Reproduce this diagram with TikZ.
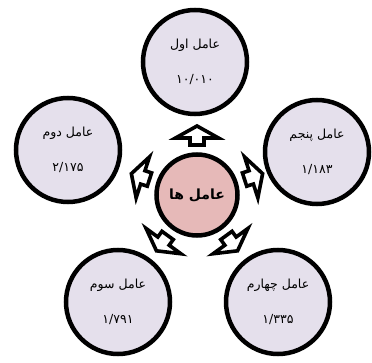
\documentclass[tikz,border=0pt]{standalone}
\usepackage{fontspec}
\newfontfamily\arabicfont[Script=Arabic]{DejaVu Sans}
\TeXXeTstate=1
\usetikzlibrary{calc}
\definecolor{satfill}{HTML}{E5E0EC}
\definecolor{hubfill}{HTML}{E6B9B8}
\tikzset{
  satnode/.style={circle, draw=black, line width=4.5pt, fill=satfill, minimum size=104pt, inner sep=0pt},
  hubnode/.style={circle, draw=black, line width=4.5pt, fill=hubfill, minimum size=81pt, inner sep=0pt, font=\arabicfont\bfseries\fontsize{14}{16}\selectfont},
  ttl/.style={font=\arabicfont\fontsize{12.5}{14}\selectfont, inner sep=0pt},
  num/.style={font=\arabicfont\fontsize{12.5}{14}\selectfont, inner sep=0pt},
  blockarrow/.style={draw=black, line width=3.6pt, fill=white, line join=miter, miter limit=10}
}
\begin{document}
\begin{tikzpicture}[x=1pt, y=-1pt]
\useasboundingbox (0,0) rectangle (372,363);
% hub
\node[hubnode] (hub) at (197,195) {\beginR عامل ها\endR};
% satellites
\node[satnode] (s1) at (195,62) {};
\node[satnode] (s2) at (68,150) {};
\node[satnode] (s5) at (317,152) {};
\node[satnode] (s3) at (118,302) {};
\node[satnode] (s4) at (278,302) {};
% texts
\node[ttl] (t1) at ($(s1)+(0,-17)$) {\beginR عامل اول\endR};
\node[num] (n1) at ($(s1)+(0,18)$) {۱۰/۰۱۰};
\node[ttl] (t2) at ($(s2)+(0,-17)$) {\beginR عامل دوم\endR};
\node[num] (n2) at ($(s2)+(0,18)$) {۲/۱۷۵};
\node[ttl] (t5) at ($(s5)+(0,-17)$) {\beginR عامل پنجم\endR};
\node[num] (n5) at ($(s5)+(0,18)$) {۱/۱۸۳};
\node[ttl] (t3) at ($(s3)+(0,-17)$) {\beginR عامل سوم\endR};
\node[num] (n3) at ($(s3)+(0,18)$) {۱/۷۹۱};
\node[ttl] (t4) at ($(s4)+(0,-17)$) {\beginR عامل چهارم\endR};
\node[num] (n4) at ($(s4)+(0,18)$) {۱/۳۳۵};
% block arrows (visual angle \a, counter-clockwise from the right)
\foreach \a in {90,162,18,234,306}{
  \draw[blockarrow]
    ($(hub.center)+(-\a:50)+(90-\a:-7)$) --
    ($(hub.center)+(-\a:57)+(90-\a:-7)$) --
    ($(hub.center)+(-\a:57)+(90-\a:-21.5)$) --
    ($(hub.center)+(-\a:69)$) --
    ($(hub.center)+(-\a:57)+(90-\a:21.5)$) --
    ($(hub.center)+(-\a:57)+(90-\a:7)$) --
    ($(hub.center)+(-\a:50)+(90-\a:7)$) -- cycle;
}
\end{tikzpicture}
\end{document}
